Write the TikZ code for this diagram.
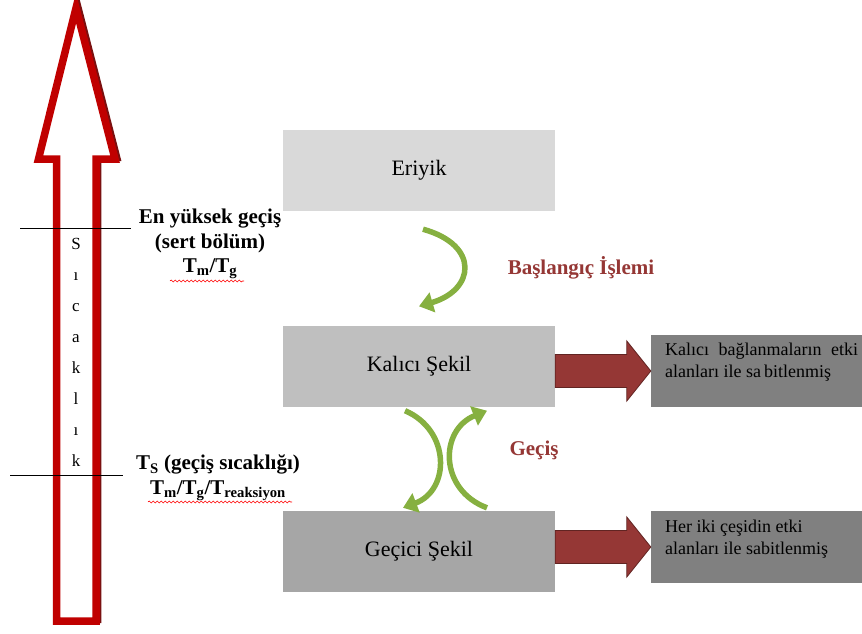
\documentclass[tikz,border=0pt]{standalone}
\usepackage{fontspec}
\setmainfont{Liberation Serif}
\usetikzlibrary{arrows.meta,calc,decorations.pathmorphing}

\definecolor{boxA}{HTML}{D9D9D9}
\definecolor{boxB}{HTML}{BFBFBF}
\definecolor{boxC}{HTML}{A6A6A6}
\definecolor{noteGray}{HTML}{808080}
\definecolor{thermoRed}{HTML}{C00000}
\definecolor{thermoShadow}{HTML}{7A1010}
\definecolor{blockRed}{HTML}{953735}
\definecolor{labelRed}{HTML}{953735}
\definecolor{leafGreen}{HTML}{86B040}

\tikzset{
  stagebox/.style={draw=none, minimum width=272pt, minimum height=81pt, inner sep=0pt,
    font=\fontsize{22}{26}\selectfont},
  notebox/.style={fill=noteGray, draw=none, minimum width=211pt, minimum height=72pt, inner sep=0pt},
  notetext/.style={font=\fontsize{18}{21.5}\selectfont, align=left, inner sep=0pt, anchor=north west},
  heading/.style={font=\bfseries\fontsize{21}{24.5}\selectfont, align=center, inner sep=0pt},
  redlabel/.style={font=\bfseries\fontsize{21}{25}\selectfont, text=labelRed, inner sep=0pt},
  blockarrow/.style={fill=blockRed, draw=blockRed!65!black, line width=0.8pt, line join=miter},
  curvearrow/.style={draw=leafGreen, line width=5.5pt,
    -{Triangle[length=14pt,width=20pt]}},
  tickline/.style={draw=black, line width=0.8pt},
  spellwave/.style={draw=red, line width=0.6pt, decorate,
    decoration={snake, amplitude=1pt, segment length=4pt}}
}

\begin{document}
\begin{tikzpicture}[x=1pt,y=-1pt]
\useasboundingbox (0,0) rectangle (862,633);

% temperature arrow: shadow first, then the red outline
\draw[thermoShadow, line width=7.5pt, line join=miter, shift={(1.6,-1.6)}]
  (76,8) -- (115,159) -- (96,159) -- (96,621) -- (56.5,621) -- (56.5,159) -- (38.5,159) -- cycle;
\draw[thermoRed, fill=white, line width=7.5pt, line join=miter]
  (76,8) -- (115,159) -- (96,159) -- (96,621) -- (56.5,621) -- (56.5,159) -- (38.5,159) -- cycle;

\node[inner sep=0pt, align=center, font=\fontsize{17}{31}\selectfont] (sicaklik) at (76,352.5)
  {S\\ı\\c\\a\\k\\l\\ı\\k};

% temperature marks
\coordinate (hiL) at (20,228);
\coordinate (hiR) at (131,228);
\coordinate (tsL) at (10,475);
\coordinate (tsR) at (123,475);
\draw[tickline] (hiL) -- (hiR);
\draw[tickline] (tsL) -- (tsR);

\node[heading] (hitrans) at (210,244)
  {En yüksek geçiş\\(sert bölüm)\\T\textsubscript{m}/T\textsubscript{g}};
\node[heading] (tstrans) at (218,478)
  {T\textsubscript{S} (geçiş sıcaklığı)\\T\textsubscript{m}/T\textsubscript{g}/T\textsubscript{reaksiyon}};
\draw[spellwave] (170,281) -- (244,281);
\draw[spellwave] (148,502) -- (292,502);

% stages
\node[stagebox, fill=boxA] (eriyik) at (419,170.5) {Eriyik};
\node[stagebox, fill=boxB] (kalici) at (419,366) {Kalıcı Şekil};
\node[stagebox, fill=boxC] (gecici) at (419,551.5) {Geçici Şekil};

% notes
\node[notebox] (note1) at (756.5,371) {};
\node[notetext] (note1txt) at (665,343)
  {\hbox to 193pt{Kalıcı\hfill bağlanmaların\hfill etki}\\alanları ile sa\,bitlenmiş};
\node[notebox] (note2) at (756.5,547) {};
\node[notetext] (note2txt) at (665,520)
  {Her iki çeşidin etki\\alanları ile sabitlenmiş};

% block arrows from the shapes to their notes
\path[blockarrow]
  ($(kalici.east |- note1.west)+(0,-16.5)$) -- ($(note1.west)+(-24,-16.5)$) --
  ($(note1.west)+(-24,-30)$) -- (note1.west) -- ($(note1.west)+(-24,30)$) --
  ($(note1.west)+(-24,16.5)$) -- ($(kalici.east |- note1.west)+(0,16.5)$) -- cycle;
\path[blockarrow]
  ($(gecici.east |- note2.west)+(0,-16.5)$) -- ($(note2.west)+(-24,-16.5)$) --
  ($(note2.west)+(-24,-30)$) -- (note2.west) -- ($(note2.west)+(-24,30)$) --
  ($(note2.west)+(-24,16.5)$) -- ($(gecici.east |- note2.west)+(0,16.5)$) -- cycle;

% curved green arrows between the stages
\coordinate (startA) at ($(eriyik.south)+(4,18)$);
\coordinate (startB) at ($(kalici.north)+(0,-19)$);
\draw[curvearrow] (startA) .. controls (480,245) and (475,290) .. (startB);

\coordinate (downA) at ($(kalici.south)+(-14,4)$);
\coordinate (downB) at ($(gecici.north)+(-16,-3)$);
\coordinate (upA) at ($(gecici.north)+(68,-3)$);
\coordinate (upB) at ($(kalici.south)+(68,4)$);
\draw[curvearrow] (downA) .. controls (450.5,430) and (450.5,490) .. (downB);
\draw[curvearrow] (upA) .. controls (439,490) and (439,430) .. (upB);

\node[redlabel] (baslangic) at (581,268) {Başlangıç İşlemi};
\node[redlabel] (gecis) at (534,450) {Geçiş};
\end{tikzpicture}
\end{document}
